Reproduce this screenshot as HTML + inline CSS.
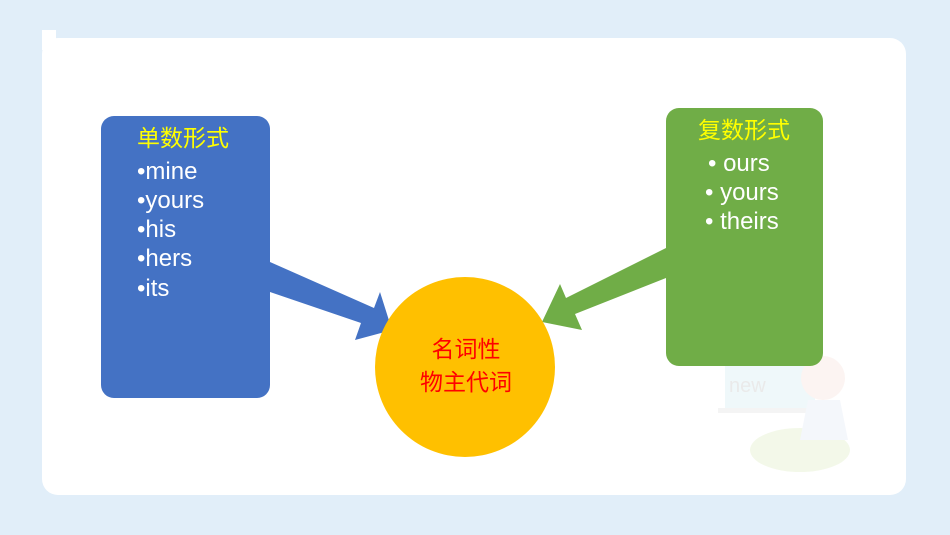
<!DOCTYPE html>
<html><head><meta charset="utf-8"><style>
body{margin:0;background:#e1eef9;}
svg{display:block}
text{font-family:"Liberation Sans","Noto Sans CJK SC",sans-serif;}
</style></head><body>
<svg width="950" height="535" viewBox="0 0 950 535">
<rect width="950" height="535" fill="#e1eef9"/>
<rect x="42" y="38" width="864" height="457" rx="16" fill="#fff"/>
<rect x="42" y="30" width="14" height="20" fill="#fff"/>
<g opacity="0.3">
<ellipse cx="800" cy="450" rx="50" ry="22" fill="#d8ebb8"/>
<rect x="725" y="365" width="90" height="45" fill="#cde9ef"/>
<rect x="718" y="408" width="100" height="5" fill="#ddd"/>
<text x="729" y="392" font-size="20" fill="#bbb">new</text>
<circle cx="823" cy="378" r="22" fill="#f6dcd5"/>
<path d="M808 400 L840 400 L848 440 L800 440 Z" fill="#dbe6f3"/>
</g>
<polygon points="270,262 374,308 380,292 392,330 355,340 361,323 270,292" fill="#4472c4"/>
<polygon points="666,248 566,298 560,284 542,322 582,330 575,314 666,278" fill="#70ad47"/>
<rect x="101" y="116" width="169" height="282" rx="13" fill="#4472c4"/>
<rect x="666" y="108" width="157" height="258" rx="13" fill="#70ad47"/>
<circle cx="465" cy="367" r="90" fill="#ffc000"/>
<g font-size="24">
<text x="137" y="146" fill="#ffff00" font-size="23">单数形式</text>
<g fill="#fff">
<text x="137" y="179">•mine</text>
<text x="137" y="208">•yours</text>
<text x="137" y="237">•his</text>
<text x="137" y="266">•hers</text>
<text x="137" y="296">•its</text>
</g>
<text x="744" y="138" fill="#ffff00" text-anchor="middle" font-size="23">复数形式</text>
<g fill="#fff">
<text x="708" y="171">• ours</text>
<text x="705" y="200">• yours</text>
<text x="705" y="229">• theirs</text>
</g>
<text x="466" y="357" fill="#ff0000" text-anchor="middle" font-size="23">名词性</text>
<text x="466" y="390" fill="#ff0000" text-anchor="middle" font-size="23">物主代词</text>
</g>
</svg>
</body></html>
